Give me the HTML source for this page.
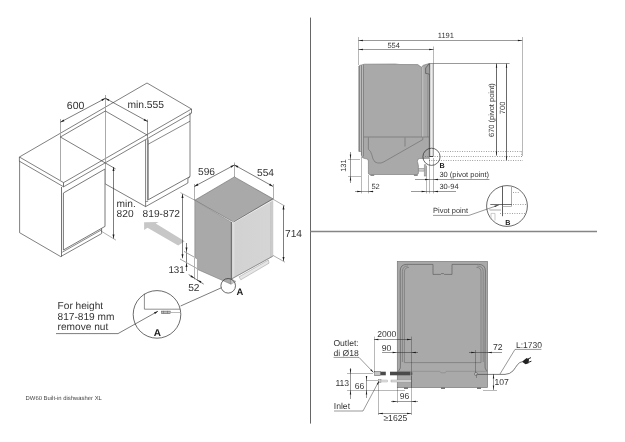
<!DOCTYPE html>
<html><head><meta charset="utf-8"><title>DW60 Built-in dishwasher XL</title>
<style>html,body{margin:0;padding:0;background:#fff}svg{display:block;filter:grayscale(1)}text{font-family:"Liberation Sans",sans-serif;text-rendering:geometricPrecision}</style></head>
<body>
<svg width="625" height="442" viewBox="0 0 625 442">
<rect width="625" height="442" fill="#fff"/>
<line x1="310.5" y1="17.6" x2="310.5" y2="423.6" stroke="#555" stroke-width="0.9" />
<line x1="310.4" y1="231.5" x2="597.0" y2="231.5" stroke="#858585" stroke-width="1.3" />
<g id="cabinets">
<polygon points="147.0,83.0 19.4,157.0 63.6,182.6 191.5,109.0" fill="none" stroke="#3a3a3a" stroke-width="0.65" stroke-linejoin="round" />
<polyline points="19.4,157.0 19.4,161.2 63.6,186.8 191.5,113.2 191.5,109.0" fill="none" stroke="#3a3a3a" stroke-width="0.65" stroke-linejoin="round" />
<line x1="63.5" y1="182.6" x2="63.5" y2="186.8" stroke="#3a3a3a" stroke-width="0.7" />
<polyline points="19.6,161.0 19.6,232.7 60.7,256.6 101.6,233.6 101.6,228.4" fill="none" stroke="#3a3a3a" stroke-width="0.65" stroke-linejoin="round" />
<line x1="61.5" y1="187.0" x2="61.5" y2="256.6" stroke="#3a3a3a" stroke-width="0.7" />
<polygon points="63.4,193.0 105.0,169.0 105.0,226.4 63.4,250.0" fill="none" stroke="#555" stroke-width="0.8" stroke-linejoin="round" />
<line x1="62.3" y1="252.2" x2="101.6" y2="229.8" stroke="#3a3a3a" stroke-width="0.6" />
<polyline points="190.0,112.6 190.0,176.6 187.9,178.4 187.9,183.0 145.6,206.6 145.6,140.0" fill="none" stroke="#3a3a3a" stroke-width="0.65" stroke-linejoin="round" />
<polyline points="148.2,139.4 148.2,199.8 190.0,176.6" fill="none" stroke="#555" stroke-width="0.8" stroke-linejoin="round" />
<line x1="148.2" y1="144.2" x2="190.0" y2="121.2" stroke="#555" stroke-width="0.7" />
<line x1="145.6" y1="201.5" x2="148.2" y2="201.5" stroke="#3a3a3a" stroke-width="0.5" />
<line x1="147.5" y1="119.5" x2="147.5" y2="200.5" stroke="#777" stroke-width="0.8" />
<line x1="60.5" y1="119.0" x2="60.5" y2="181.0" stroke="#a0a0a0" stroke-width="0.9" />
<line x1="105.5" y1="95.0" x2="105.5" y2="184.0" stroke="#a0a0a0" stroke-width="0.9" />
<line x1="60.4" y1="137.0" x2="105.4" y2="111.0" stroke="#1e1e1e" stroke-width="0.58" />
<line x1="60.4" y1="137.0" x2="115.6" y2="168.9" stroke="#1e1e1e" stroke-width="0.58" />
<line x1="105.4" y1="111.0" x2="147.4" y2="135.2" stroke="#1e1e1e" stroke-width="0.58" />
<line x1="105.4" y1="184.0" x2="145.6" y2="206.6" stroke="#1e1e1e" stroke-width="0.58" />
<line x1="60.4" y1="122.2" x2="105.4" y2="98.3" stroke="#1e1e1e" stroke-width="0.58" />
<line x1="105.4" y1="98.3" x2="147.6" y2="121.5" stroke="#1e1e1e" stroke-width="0.58" />
<polygon points="60.4,122.2 63.5,119.4 64.4,121.2" fill="#1c1c1c"/>
<polygon points="105.4,98.3 102.3,101.1 101.4,99.3" fill="#1c1c1c"/>
<polygon points="105.4,98.3 109.4,99.4 108.4,101.1" fill="#1c1c1c"/>
<polygon points="147.6,121.5 143.6,120.4 144.6,118.7" fill="#1c1c1c"/>
<text x="66.8" y="108.8" font-size="10.5" font-weight="normal" text-anchor="start" fill="#333">600</text>
<text x="127.4" y="107.6" font-size="10.3" font-weight="normal" text-anchor="start" fill="#333">min.555</text>
<line x1="113.5" y1="167.0" x2="113.5" y2="238.6" stroke="#1e1e1e" stroke-width="0.58" />
<polygon points="113.5,167.0 114.5,171.0 112.5,171.0" fill="#1c1c1c"/>
<polygon points="113.5,238.6 112.5,234.6 114.5,234.6" fill="#1c1c1c"/>
<line x1="101.0" y1="231.0" x2="116.0" y2="240.2" stroke="#1e1e1e" stroke-width="0.36" />
<text x="116.6" y="206.8" font-size="10.2" font-weight="normal" text-anchor="start" fill="#333">min.</text>
<text x="116.6" y="217.4" font-size="10.2" font-weight="normal" text-anchor="start" fill="#333">820</text>
<text x="142.6" y="217.0" font-size="10.2" font-weight="normal" text-anchor="start" fill="#333">819-872</text>
</g>
<g id="dw">
<defs><linearGradient id="gf" x1="0" x2="1" y1="0" y2="0"><stop offset="0" stop-color="#e2e2e2"/><stop offset="0.05" stop-color="#dcdcdc"/><stop offset="0.08" stop-color="#d2d2d2"/><stop offset="0.92" stop-color="#d5d5d5"/><stop offset="0.95" stop-color="#c4c4c4"/><stop offset="1" stop-color="#d8d8d8"/></linearGradient><linearGradient id="ga" x1="0" x2="1" y1="0" y2="0.5"><stop offset="0" stop-color="#bcbcbc"/><stop offset="1" stop-color="#d4d4d4"/></linearGradient></defs>
<polygon points="144.1,222.2 158.7,221.9 155.7,223.6 184.7,241.2 178.2,245.4 147.5,227.7 144.1,229.9" fill="#c7c7c7"/>
<polygon points="234.4,176.9 194.8,200.2 233.4,222.0 273.0,198.8" fill="#a9a9ab" stroke="#666" stroke-width="0.6" stroke-linejoin="round" />
<polygon points="194.8,200.2 194.8,257.6 197.4,259.0 197.4,269.4 231.0,284.2 231.0,222.0" fill="#a9a9ab" stroke="#777" stroke-width="0.5" stroke-linejoin="round" />
<polygon points="231.8,222.0 272.8,198.8 272.8,256.2 231.8,278.8" fill="url(#gf)" stroke="#aaa" stroke-width="0.5" stroke-linejoin="round" />
<line x1="231.5" y1="222.0" x2="231.5" y2="279.6" stroke="#666" stroke-width="0.9" />
<line x1="232.2" y1="223.2" x2="272.8" y2="200.2" stroke="#f2f2f2" stroke-width="0.9" />
<line x1="231.8" y1="278.8" x2="272.8" y2="256.2" stroke="#777" stroke-width="0.7" />
<line x1="233.4" y1="222.0" x2="273.0" y2="198.8" stroke="#5e5e5e" stroke-width="0.8" />
<polygon points="239.0,276.8 240.8,279.8 269.0,263.2 268.4,260.0" fill="#e6e6e6" stroke="#999" stroke-width="0.5" stroke-linejoin="round" />
<polygon points="231.0,284.2 231.0,279.0 236.0,281.4" fill="#c9c9c9" stroke="#888" stroke-width="0.4" stroke-linejoin="round" />
<line x1="194.4" y1="186.4" x2="234.4" y2="165.0" stroke="#1e1e1e" stroke-width="0.58" />
<line x1="234.4" y1="165.0" x2="273.0" y2="186.4" stroke="#1e1e1e" stroke-width="0.58" />
<line x1="194.5" y1="184.0" x2="194.5" y2="200.0" stroke="#1e1e1e" stroke-width="0.36" />
<line x1="234.5" y1="162.5" x2="234.5" y2="177.0" stroke="#1e1e1e" stroke-width="0.36" />
<line x1="273.5" y1="184.0" x2="273.5" y2="199.0" stroke="#1e1e1e" stroke-width="0.36" />
<polygon points="194.4,186.4 197.5,183.6 198.4,185.4" fill="#1c1c1c"/>
<polygon points="234.4,165.0 231.3,167.8 230.4,166.0" fill="#1c1c1c"/>
<polygon points="234.4,165.0 238.4,166.1 237.4,167.8" fill="#1c1c1c"/>
<polygon points="273.0,186.4 269.0,185.3 270.0,183.6" fill="#1c1c1c"/>
<text x="198.0" y="175.0" font-size="10.2" font-weight="normal" text-anchor="start" fill="#333">596</text>
<text x="257.0" y="175.6" font-size="10.2" font-weight="normal" text-anchor="start" fill="#333">554</text>
<line x1="283.5" y1="205.6" x2="283.5" y2="261.0" stroke="#1e1e1e" stroke-width="0.58" />
<polygon points="283.5,205.6 284.5,209.6 282.5,209.6" fill="#1c1c1c"/>
<polygon points="283.5,261.0 282.5,257.0 284.5,257.0" fill="#1c1c1c"/>
<line x1="273.0" y1="199.2" x2="285.0" y2="206.2" stroke="#1e1e1e" stroke-width="0.36" />
<line x1="273.0" y1="255.4" x2="285.0" y2="262.2" stroke="#1e1e1e" stroke-width="0.36" />
<text x="285.0" y="237.4" font-size="10.2" font-weight="normal" text-anchor="start" fill="#333">714</text>
<line x1="182.5" y1="194.0" x2="182.5" y2="258.3" stroke="#1e1e1e" stroke-width="0.58" />
<polygon points="182.5,194.0 183.5,198.0 181.5,198.0" fill="#1c1c1c"/>
<polygon points="182.5,258.3 181.5,254.3 183.5,254.3" fill="#1c1c1c"/>
<line x1="180.4" y1="192.6" x2="194.8" y2="200.2" stroke="#1e1e1e" stroke-width="0.36" />
<line x1="186.5" y1="243.0" x2="186.5" y2="271.0" stroke="#1e1e1e" stroke-width="0.58" />
<polygon points="186.5,251.5 185.5,247.5 187.5,247.5" fill="#1c1c1c"/>
<polygon points="186.5,263.0 187.5,267.0 185.5,267.0" fill="#1c1c1c"/>
<line x1="184.0" y1="251.4" x2="194.4" y2="257.2" stroke="#999" stroke-width="0.9" />
<line x1="180.0" y1="259.0" x2="198.2" y2="269.2" stroke="#999" stroke-width="0.9" />
<text x="168.4" y="273.3" font-size="9.8" font-weight="normal" text-anchor="start" fill="#333">131</text>
<line x1="194.5" y1="258.0" x2="194.5" y2="279.4" stroke="#aaa" stroke-width="0.9" />
<line x1="197.5" y1="259.0" x2="197.5" y2="281.0" stroke="#aaa" stroke-width="0.9" />
<line x1="188.7" y1="274.6" x2="203.7" y2="284.1" stroke="#1e1e1e" stroke-width="0.58" />
<polygon points="194.3,278.1 190.4,276.9 191.4,275.2" fill="#1c1c1c"/>
<polygon points="197.5,280.1 201.4,281.3 200.4,283.0" fill="#1c1c1c"/>
<text x="188.2" y="291.4" font-size="10.2" font-weight="normal" text-anchor="start" fill="#333">52</text>
<circle cx="228.2" cy="285.8" r="7.3" fill="none" stroke="#2b2b2b" stroke-width="0.7"/>
<text x="236.4" y="295.4" font-size="9.4" font-weight="bold" text-anchor="start" fill="#1a1a1a">A</text>
<line x1="221.3" y1="287.8" x2="180.6" y2="306.0" stroke="#1e1e1e" stroke-width="0.58" />
<circle cx="157" cy="314.4" r="23.8" fill="#fff" stroke="#2b2b2b" stroke-width="0.7"/>
<polyline points="144.4,293.8 144.4,309.2 180.2,309.2" fill="none" stroke="#444" stroke-width="0.6" stroke-linejoin="round" />
<rect x="161.6" y="311.1" width="8.6" height="2.6" fill="#bbb" stroke="#555" stroke-width="0.5"/>
<line x1="170.2" y1="312.5" x2="180.6" y2="312.5" stroke="#aaa" stroke-width="0.8" />
<line x1="163.5" y1="310.8" x2="163.5" y2="313.4" stroke="#555" stroke-width="0.4" />
<line x1="167.5" y1="310.8" x2="167.5" y2="313.4" stroke="#555" stroke-width="0.4" />
<text x="153.8" y="336.2" font-size="10" font-weight="bold" text-anchor="start" fill="#1a1a1a">A</text>
<polyline points="56.0,333.6 118.0,333.6 158.0,311.2" fill="none" stroke="#1e1e1e" stroke-width="0.58" stroke-linejoin="round" />
<polygon points="158.0,311.2 155.0,314.0 154.0,312.3" fill="#1c1c1c"/>
<text x="57.6" y="309.0" font-size="10.15" font-weight="normal" text-anchor="start" fill="#333">For height</text>
<text x="57.6" y="319.6" font-size="10.15" font-weight="normal" text-anchor="start" fill="#333">817-819 mm</text>
<text x="57.6" y="330.2" font-size="10.15" font-weight="normal" text-anchor="start" fill="#333">remove nut</text>
</g>
<text x="25.6" y="399.6" font-size="5.9" font-weight="normal" text-anchor="start" fill="#444">DW60 Built-in dishwasher XL</text>
<g id="side">
<path d="M358.8,66 L360,65.4 L364.4,64.2 L395,64 L400,64.5 L417.8,64.6 L421.3,67.2 L423.3,65.3 L429.2,63.5 L429.2,158.3 L419.4,158.5 Q417,159.4 417.4,161.4 L418.2,164.6 Q418.5,166 418.4,167.2 L418.4,173 Q418.4,174.5 417,174.5 L369.8,174.5 Q368.4,174.5 368.4,173 L368.4,161 Q368.2,159 366.4,158.8 L365,158.6 Q361.6,158.2 361.4,155 L361.4,151.4 L358.8,151.4 Z" fill="#a9a9ab" stroke="#707070" stroke-width="0.6"/>
<rect x="359.4" y="65.8" width="2" height="85.4" fill="#bdbdbd"/>
<rect x="361.6" y="65" width="2" height="90.6" fill="#bababc"/>
<line x1="359.5" y1="66.0" x2="359.5" y2="151.4" stroke="#7a7a7a" stroke-width="0.8" />
<line x1="361.5" y1="65.2" x2="361.5" y2="155.4" stroke="#777" stroke-width="0.8" />
<line x1="363.5" y1="64.6" x2="363.5" y2="156.4" stroke="#777" stroke-width="0.8" />
<rect x="421.4" y="67" width="1.9" height="70" fill="#bcbcbc"/>
<line x1="421.5" y1="67.0" x2="421.5" y2="137.0" stroke="#888" stroke-width="0.6" />
<rect x="429.4" y="63.2" width="4.2" height="93.2" fill="#d4d4d4"/>
<line x1="429.5" y1="63.2" x2="429.5" y2="156.6" stroke="#5a5a5a" stroke-width="0.9" />
<line x1="433.5" y1="63.2" x2="433.5" y2="156.6" stroke="#999" stroke-width="0.9" />
<line x1="429.4" y1="63.5" x2="433.6" y2="63.5" stroke="#888" stroke-width="0.8" />
<line x1="431.5" y1="64.0" x2="431.5" y2="156.0" stroke="#ececec" stroke-width="1" />
<line x1="427.5" y1="75.0" x2="427.5" y2="137.0" stroke="#8c8c8c" stroke-width="0.6" />
<path d="M429,63.8 L425.6,68.1 L425.6,73.4 L429.4,74.2" fill="#9e9e9e" stroke="#444" stroke-width="0.6"/>
<path d="M363.8,137 L429.2,137 M368.4,137.4 L368.4,149.2 Q371.2,151.6 371.8,154.8 Q372.6,159.6 375,162 Q377,163.4 381,163 Q384,162 386.4,160.4 L422.8,139.6 L422.8,137.4 M405,137.6 L405,146.6" fill="none" stroke="#686868" stroke-width="0.6"/>
<rect x="370.4" y="174.6" width="3.8" height="1.3" fill="#808080"/><rect x="413.9" y="174.6" width="3.8" height="1.3" fill="#808080"/>
<rect x="418.8" y="168.5" width="5.4" height="2.6" fill="#cfcfcf" stroke="#777" stroke-width="0.5"/><rect x="424.2" y="164.8" width="1.8" height="11.2" fill="#c4c4c4" stroke="#777" stroke-width="0.5"/>
<line x1="358.5" y1="37.0" x2="358.5" y2="65.0" stroke="#1e1e1e" stroke-width="0.32" />
<line x1="433.5" y1="46.5" x2="433.5" y2="63.0" stroke="#1e1e1e" stroke-width="0.32" />
<line x1="522.5" y1="37.0" x2="522.5" y2="156.0" stroke="#1e1e1e" stroke-width="0.32" />
<line x1="358.5" y1="40.5" x2="522.3" y2="40.5" stroke="#1e1e1e" stroke-width="0.46" />
<line x1="358.5" y1="49.5" x2="433.6" y2="49.5" stroke="#1e1e1e" stroke-width="0.46" />
<polygon points="358.5,40.5 362.9,39.8 362.9,41.2" fill="#1c1c1c"/>
<polygon points="522.3,40.5 517.9,41.2 517.9,39.8" fill="#1c1c1c"/>
<polygon points="358.5,49.5 362.9,48.8 362.9,50.2" fill="#1c1c1c"/>
<polygon points="433.6,49.5 429.2,50.2 429.2,48.8" fill="#1c1c1c"/>
<text x="387.4" y="48.0" font-size="7.5" font-weight="normal" text-anchor="start" fill="#333">554</text>
<text x="437.8" y="38.4" font-size="7.5" font-weight="normal" text-anchor="start" fill="#333">1191</text>
<line x1="433.4" y1="63.5" x2="509.6" y2="63.5" stroke="#1e1e1e" stroke-width="0.46" />
<line x1="496.5" y1="63.4" x2="496.5" y2="155.6" stroke="#6a6a6a" stroke-width="1" />
<line x1="506.5" y1="63.4" x2="506.5" y2="160.4" stroke="#6a6a6a" stroke-width="1" />
<polygon points="496.5,63.4 497.2,67.8 495.8,67.8" fill="#1c1c1c"/>
<polygon points="496.5,155.6 495.8,151.2 497.2,151.2" fill="#1c1c1c"/>
<polygon points="506.5,63.4 507.2,67.8 505.8,67.8" fill="#1c1c1c"/>
<polygon points="506.5,160.4 505.8,156.0 507.2,156.0" fill="#1c1c1c"/>
<text x="494.4" y="137.0" font-size="7.5" font-weight="normal" text-anchor="start" fill="#333" transform="rotate(-90 494.4 137.0)">670 (pivot point)</text>
<text x="505.4" y="114.2" font-size="7.5" font-weight="normal" text-anchor="start" fill="#333" transform="rotate(-90 505.4 114.2)">700</text>
<line x1="440.4" y1="151.5" x2="521.4" y2="151.5" stroke="#666" stroke-width="0.7" stroke-dasharray="0.9 1.5"/>
<line x1="425.0" y1="156.5" x2="523.0" y2="156.5" stroke="#666" stroke-width="0.7" stroke-dasharray="0.9 1.5"/>
<line x1="429.0" y1="160.5" x2="523.0" y2="160.5" stroke="#666" stroke-width="0.7" stroke-dasharray="0.9 1.5"/>
<line x1="521.5" y1="151.4" x2="521.5" y2="156.6" stroke="#666" stroke-width="0.7" stroke-dasharray="0.9 1.5"/>
<circle cx="431.5" cy="156.8" r="8.6" fill="none" stroke="#2b2b2b" stroke-width="0.7"/>
<line x1="429.4" y1="156.5" x2="433.0" y2="156.5" stroke="#222" stroke-width="0.8" />
<text x="439.6" y="168.4" font-size="7.2" font-weight="bold" text-anchor="start" fill="#1a1a1a">B</text>
<line x1="350.5" y1="152.0" x2="350.5" y2="183.0" stroke="#1e1e1e" stroke-width="0.46" />
<line x1="348.0" y1="159.5" x2="360.0" y2="159.5" stroke="#1e1e1e" stroke-width="0.32" />
<line x1="348.0" y1="176.5" x2="361.0" y2="176.5" stroke="#1e1e1e" stroke-width="0.32" />
<polygon points="350.5,159.0 349.8,154.6 351.2,154.6" fill="#1c1c1c"/>
<polygon points="350.5,176.2 351.2,180.6 349.8,180.6" fill="#1c1c1c"/>
<text x="346.2" y="171.8" font-size="7.5" font-weight="normal" text-anchor="start" fill="#333" transform="rotate(-90 346.2 171.8)">131</text>
<line x1="361.5" y1="157.0" x2="361.5" y2="193.4" stroke="#1e1e1e" stroke-width="0.32" />
<line x1="368.5" y1="175.0" x2="368.5" y2="193.4" stroke="#1e1e1e" stroke-width="0.32" />
<line x1="355.0" y1="191.5" x2="373.4" y2="191.5" stroke="#1e1e1e" stroke-width="0.46" />
<polygon points="361.6,191.5 357.2,192.2 357.2,190.8" fill="#1c1c1c"/>
<polygon points="368.6,191.5 373.0,190.8 373.0,192.2" fill="#1c1c1c"/>
<text x="371.4" y="189.4" font-size="7.5" font-weight="normal" text-anchor="start" fill="#333">52</text>
<line x1="426.5" y1="166.0" x2="426.5" y2="193.4" stroke="#1e1e1e" stroke-width="0.32" />
<line x1="429.5" y1="158.0" x2="429.5" y2="193.4" stroke="#1e1e1e" stroke-width="0.32" />
<line x1="433.5" y1="158.0" x2="433.5" y2="193.4" stroke="#1e1e1e" stroke-width="0.32" />
<line x1="415.0" y1="179.5" x2="489.4" y2="179.5" stroke="#1e1e1e" stroke-width="0.46" />
<line x1="411.0" y1="191.5" x2="456.0" y2="191.5" stroke="#1e1e1e" stroke-width="0.46" />
<polygon points="429.4,179.5 425.0,180.2 425.0,178.8" fill="#1c1c1c"/>
<polygon points="433.6,179.5 438.0,178.8 438.0,180.2" fill="#1c1c1c"/>
<polygon points="426.0,191.5 421.6,192.2 421.6,190.8" fill="#1c1c1c"/>
<polygon points="433.6,191.5 438.0,190.8 438.0,192.2" fill="#1c1c1c"/>
<text x="439.4" y="177.0" font-size="7.5" font-weight="normal" text-anchor="start" fill="#333">30 (pivot point)</text>
<text x="439.4" y="189.4" font-size="7.5" font-weight="normal" text-anchor="start" fill="#333">30-94</text>
<text x="433.0" y="213.0" font-size="7.5" font-weight="normal" text-anchor="start" fill="#333">Pivot point</text>
<polyline points="433.0,215.4 469.0,215.4 498.8,205.0" fill="none" stroke="#1e1e1e" stroke-width="0.46" stroke-linejoin="round" />
<polygon points="498.8,205.0 494.9,207.1 494.4,205.8" fill="#1c1c1c"/>
<circle cx="507" cy="206" r="20.4" fill="none" stroke="#2b2b2b" stroke-width="0.7"/>
<line x1="502.5" y1="186.2" x2="502.5" y2="216.2" stroke="#333" stroke-width="0.8" />
<line x1="511.5" y1="187.0" x2="511.5" y2="206.0" stroke="#888" stroke-width="0.7" />
<line x1="490.3" y1="204.5" x2="511.8" y2="204.5" stroke="#333" stroke-width="0.7" />
<line x1="502.5" y1="206.5" x2="511.8" y2="206.5" stroke="#888" stroke-width="0.6" />
<line x1="513.0" y1="192.5" x2="520.0" y2="192.5" stroke="#666" stroke-width="0.7" stroke-dasharray="0.9 1.5"/>
<line x1="513.0" y1="204.5" x2="527.0" y2="204.5" stroke="#666" stroke-width="0.7" stroke-dasharray="0.9 1.5"/>
<line x1="500.0" y1="213.5" x2="525.6" y2="213.5" stroke="#666" stroke-width="0.7" stroke-dasharray="0.9 1.5"/>
<line x1="489.0" y1="209.5" x2="501.0" y2="209.5" stroke="#aaa" stroke-width="0.5" />
<line x1="489.6" y1="210.5" x2="501.0" y2="210.5" stroke="#aaa" stroke-width="0.5" />
<polyline points="491.0,219.5 491.0,213.4 495.0,213.4 495.0,220.5" fill="none" stroke="#aaa" stroke-width="0.6" stroke-linejoin="round" />
<text x="505.2" y="224.5" font-size="7.2" font-weight="bold" text-anchor="start" fill="#1a1a1a">B</text>
</g>
<g id="rear">
<rect x="397.3" y="261.5" width="90.2" height="126" fill="#a9a9ab" stroke="#777" stroke-width="0.7"/>
<path d="M398.4,371.3 Q401.2,369 400.4,363 L400.2,271 Q400.2,264.4 406.8,264.4 L433,264.4 L433,274.4 L440.6,274.4 L441.4,273.6 L443.6,273.6 L444.4,274.4 L452,274.4 L452,264.4 L478.6,264.4 Q485.4,264.4 485.4,271 L485,363 Q484.4,369 486.8,371.3" fill="none" stroke="#5e5e5e" stroke-width="0.7"/>
<path d="M402.4,362 L402.4,271.6 Q402.4,266 408,266 M477.4,266 Q483.2,266 483.2,271.6 L483.2,362" fill="none" stroke="#6c6c6c" stroke-width="0.6"/>
<path d="M404.4,362.6 L404.4,272 Q404.4,267.4 409,267.4 M476.4,267.4 Q481,267.4 481,272 L481,362.6 L404.4,362.6" fill="none" stroke="#6c6c6c" stroke-width="0.6"/>
<path d="M397.3,371.3 L439.8,371.3 L441,372.8 L445.2,372.8 L446.4,371.3 L487.5,371.3" fill="none" stroke="#858585" stroke-width="0.6"/>
<rect x="404" y="387.2" width="4" height="1.8" fill="#777"/>
<rect x="441" y="387.2" width="4" height="1.8" fill="#777"/>
<rect x="477" y="387.2" width="4" height="1.8" fill="#777"/>
<rect x="374.6" y="371.4" width="5.8" height="4.2" fill="#c4c4c4" stroke="#555" stroke-width="0.5"/>
<rect x="380.5" y="371.7" width="5.3" height="3.6" fill="#4a4a4a"/>
<rect x="390" y="371.7" width="20.2" height="3.6" fill="#4a4a4a"/>
<path d="M410.2,371.7 L412.6,372.4 L412.6,374.8 L410.2,375.3 Z" fill="#777"/>
<rect x="378.6" y="379.6" width="2.4" height="2.8" fill="#ddd" stroke="#777" stroke-width="0.5"/>
<rect x="381" y="380" width="6.6" height="2" fill="#e2e2e2" stroke="#a0a0a0" stroke-width="0.4"/>
<rect x="391" y="380" width="21" height="2" fill="#dedede" stroke="#909090" stroke-width="0.4"/>
<line x1="411.5" y1="376.0" x2="411.5" y2="388.0" stroke="#777" stroke-width="0.6" />
<line x1="374.5" y1="336.6" x2="374.5" y2="372.0" stroke="#1e1e1e" stroke-width="0.32" />
<line x1="411.5" y1="336.6" x2="411.5" y2="415.0" stroke="#1e1e1e" stroke-width="0.32" />
<line x1="374.0" y1="339.5" x2="411.4" y2="339.5" stroke="#1e1e1e" stroke-width="0.46" />
<polygon points="374.0,339.5 378.4,338.8 378.4,340.2" fill="#1c1c1c"/>
<polygon points="411.4,339.5 407.0,340.2 407.0,338.8" fill="#1c1c1c"/>
<text x="377.2" y="337.4" font-size="8.6" font-weight="normal" text-anchor="start" fill="#333">2000</text>
<line x1="382.0" y1="352.5" x2="418.0" y2="352.5" stroke="#1e1e1e" stroke-width="0.46" />
<polygon points="397.0,352.5 392.6,353.2 392.6,351.8" fill="#1c1c1c"/>
<polygon points="411.4,352.5 415.8,351.8 415.8,353.2" fill="#1c1c1c"/>
<text x="381.8" y="351.0" font-size="8.6" font-weight="normal" text-anchor="start" fill="#333">90</text>
<text x="333.4" y="346.0" font-size="8.6" font-weight="normal" text-anchor="start" fill="#333">Outlet:</text>
<text x="333.4" y="355.6" font-size="8.6" font-weight="normal" text-anchor="start" fill="#333">di Ø18</text>
<polyline points="333.6,357.4 359.0,357.4 373.4,372.4" fill="none" stroke="#1e1e1e" stroke-width="0.46" stroke-linejoin="round" />
<polygon points="373.6,372.6 370.3,370.2 371.3,369.2" fill="#1c1c1c"/>
<line x1="350.5" y1="368.0" x2="350.5" y2="399.0" stroke="#1e1e1e" stroke-width="0.46" />
<line x1="347.0" y1="373.5" x2="373.0" y2="373.5" stroke="#1e1e1e" stroke-width="0.32" />
<line x1="347.0" y1="390.5" x2="405.0" y2="390.5" stroke="#1e1e1e" stroke-width="0.32" />
<polygon points="350.5,373.7 349.8,369.3 351.2,369.3" fill="#1c1c1c"/>
<polygon points="350.5,390.0 351.2,394.4 349.8,394.4" fill="#1c1c1c"/>
<text x="335.4" y="385.6" font-size="8.6" font-weight="normal" text-anchor="start" fill="#333">113</text>
<line x1="366.5" y1="376.0" x2="366.5" y2="398.0" stroke="#1e1e1e" stroke-width="0.46" />
<line x1="366.0" y1="380.5" x2="378.0" y2="380.5" stroke="#1e1e1e" stroke-width="0.32" />
<polygon points="366.5,380.4 365.8,376.0 367.2,376.0" fill="#1c1c1c"/>
<polygon points="366.5,390.0 367.2,394.4 365.8,394.4" fill="#1c1c1c"/>
<text x="354.8" y="388.6" font-size="8.6" font-weight="normal" text-anchor="start" fill="#333">66</text>
<line x1="391.0" y1="401.5" x2="418.0" y2="401.5" stroke="#1e1e1e" stroke-width="0.46" />
<line x1="397.5" y1="387.0" x2="397.5" y2="403.0" stroke="#1e1e1e" stroke-width="0.32" />
<polygon points="397.0,401.5 392.6,402.2 392.6,400.8" fill="#1c1c1c"/>
<polygon points="411.4,401.5 415.8,400.8 415.8,402.2" fill="#1c1c1c"/>
<text x="399.8" y="399.0" font-size="8.6" font-weight="normal" text-anchor="start" fill="#333">96</text>
<text x="333.8" y="409.0" font-size="8.6" font-weight="normal" text-anchor="start" fill="#333">Inlet</text>
<polyline points="334.0,411.0 363.0,411.0 378.8,381.4" fill="none" stroke="#1e1e1e" stroke-width="0.46" stroke-linejoin="round" />
<polygon points="379.2,380.8 378.0,384.7 376.8,384.1" fill="#1c1c1c"/>
<line x1="378.5" y1="382.0" x2="378.5" y2="415.0" stroke="#1e1e1e" stroke-width="0.32" />
<line x1="378.4" y1="413.5" x2="411.4" y2="413.5" stroke="#1e1e1e" stroke-width="0.46" />
<polygon points="378.4,413.5 382.8,412.8 382.8,414.2" fill="#1c1c1c"/>
<polygon points="411.4,413.5 407.0,414.2 407.0,412.8" fill="#1c1c1c"/>
<text x="383.4" y="421.4" font-size="8.6" font-weight="normal" text-anchor="start" fill="#333">≥1625</text>
<line x1="475.5" y1="350.0" x2="475.5" y2="374.0" stroke="#1e1e1e" stroke-width="0.32" />
<line x1="469.0" y1="352.5" x2="502.0" y2="352.5" stroke="#1e1e1e" stroke-width="0.46" />
<polygon points="475.6,352.5 471.2,353.2 471.2,351.8" fill="#1c1c1c"/>
<polygon points="487.4,352.5 491.8,351.8 491.8,353.2" fill="#1c1c1c"/>
<text x="493.0" y="350.4" font-size="8.6" font-weight="normal" text-anchor="start" fill="#333">72</text>
<circle cx="476" cy="374" r="1.6" fill="#bbb" stroke="#555" stroke-width="0.5"/>
<line x1="476.5" y1="374.0" x2="476.5" y2="378.0" stroke="#666" stroke-width="0.6" />
<path d="M477.6,374.4 L505,374.4 Q510,374.2 513.1,370.8 Q515.4,367.6 517.6,364.5 Q519.6,362 522.4,361.7" fill="none" stroke="#444" stroke-width="0.7"/>
<path d="M522,361.8 L526.6,357.9 L529,359.3 L528.6,363.2 L525.6,364.2 Z" fill="#222"/>
<line x1="528.0" y1="359.0" x2="531.0" y2="357.6" stroke="#222" stroke-width="1.0" />
<line x1="528.5" y1="362.3" x2="531.4" y2="361.2" stroke="#222" stroke-width="1.0" />
<text x="516.0" y="347.5" font-size="8.5" font-weight="normal" text-anchor="start" fill="#333">L:1730</text>
<polyline points="515.0,349.4 541.4,349.4" fill="none" stroke="#1e1e1e" stroke-width="0.46" stroke-linejoin="round" />
<line x1="515.0" y1="349.4" x2="500.0" y2="374.0" stroke="#1e1e1e" stroke-width="0.46" />
<line x1="493.5" y1="374.0" x2="493.5" y2="390.0" stroke="#1e1e1e" stroke-width="0.46" />
<line x1="483.0" y1="390.5" x2="497.0" y2="390.5" stroke="#1e1e1e" stroke-width="0.32" />
<polygon points="493.5,374.0 494.2,378.4 492.8,378.4" fill="#1c1c1c"/>
<polygon points="493.5,390.0 492.8,385.6 494.2,385.6" fill="#1c1c1c"/>
<text x="494.4" y="385.0" font-size="8.6" font-weight="normal" text-anchor="start" fill="#333">107</text>
</g>
</svg>
</body></html>
